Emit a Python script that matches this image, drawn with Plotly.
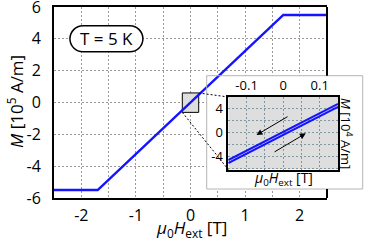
import plotly.graph_objects as go

# ---------------- data ----------------
H_main = [-2.5, -1.7, 1.7, 2.5]          # mu0 Hext [T]
M_main = [-5.5, -5.5, 5.5, 5.5]          # M [1e5 A/m]

H_loop = [-0.15, 0.15]                   # inset field [T]
M_loop_down = [-4.61, 4.83]              # descending branch [1e4 A/m]
M_loop_up = [-5.11, 4.33]                # ascending branch [1e4 A/m]

# arrows in inset: (tail_x, tail_y, head_x, head_y)
arrow_down = [0.016, 2.84, -0.073, -0.40]
arrow_up = [-0.0275, -3.38, 0.062, -0.12]

main_xticks = [-2, -1, 0, 1, 2]
main_xtext = ["-2", "-1", "0", "1", "2"]
main_yticks = [-6, -4, -2, 0, 2, 4, 6]
main_ytext = ["-6", "-4", "-2", "0", "2", "4", "6"]
inset_xticks = [-0.1, 0, 0.1]
inset_xtext = ["-0.1", "0", "0.1"]
inset_yticks = [-4, 0, 4]
inset_ytext = ["-4", "0", "4"]

# ---------------- geometry ----------------
W, H = 365, 240
ML, MR, MT, MB = 54, 2, 7, 42
PW, PH = W - ML - MR, H - MT - MB


def px_x(p):
    return (p - ML) / PW


def px_y(p):
    return (H - MB - p) / PH


main_xr = [-2.5, 2.5]
main_yr = [-6, 6]
main_dx = [0, px_x(327)]
main_dy = [0, 1]

ins_xr = [-0.15, 0.15]
ins_yr = [-6.2, 6.0]
ins_dx = [px_x(228.3), px_x(338)]
ins_dy = [px_y(169.5), px_y(97)]

box_x = [px_x(206.7), px_x(362.7)]
box_y = [px_y(189), px_y(75.7)]


def to_main_x(px):
    return main_xr[0] + (px - main_dx[0]) / (main_dx[1] - main_dx[0]) * (main_xr[1] - main_xr[0])


def to_main_y(py):
    return main_yr[0] + (py - main_dy[0]) / (main_dy[1] - main_dy[0]) * (main_yr[1] - main_yr[0])


FONT = "Open Sans"
BLUE = "#1414ff"
GRID = "#9a9a9a"
IGRID = "#7f979f"
INSET_BG = "#dedede"

fig = go.Figure()

fig.add_trace(go.Scatter(x=H_main, y=M_main, mode="lines",
                         line=dict(color=BLUE, width=2.5),
                         xaxis="x", yaxis="y", hoverinfo="skip", showlegend=False))
fig.add_trace(go.Scatter(x=H_loop, y=M_loop_down, mode="lines",
                         line=dict(color=BLUE, width=2),
                         xaxis="x2", yaxis="y2", hoverinfo="skip", showlegend=False))
fig.add_trace(go.Scatter(x=H_loop, y=M_loop_up, mode="lines",
                         line=dict(color=BLUE, width=2),
                         xaxis="x2", yaxis="y2", hoverinfo="skip", showlegend=False))

shapes = []
# white inset panel (covers main gridlines, below main curve)
shapes.append(dict(type="rect", xref="x", yref="y", layer="between",
                   x0=to_main_x(box_x[0]), x1=to_main_x(box_x[1]),
                   y0=to_main_y(box_y[0]), y1=to_main_y(box_y[1]),
                   fillcolor="white", line=dict(width=0)))
# panel border
shapes.append(dict(type="rect", xref="paper", yref="paper", layer="above",
                   x0=box_x[0], x1=box_x[1], y0=box_y[0], y1=box_y[1],
                   fillcolor="rgba(0,0,0,0)", line=dict(color="#b4b4b4", width=1)))
# zoom square at origin on the main plot
shapes.append(dict(type="rect", xref="x", yref="y", layer="between",
                   x0=ins_xr[0], x1=ins_xr[1],
                   y0=ins_yr[0] / 10, y1=ins_yr[1] / 10,
                   fillcolor=INSET_BG, line=dict(color="black", width=1)))
# connector lines
shapes.append(dict(type="line", xref="x", yref="y", layer="above",
                   x0=ins_xr[1], y0=ins_yr[1] / 10,
                   x1=to_main_x(ins_dx[0]), y1=to_main_y(ins_dy[1]),
                   line=dict(color="black", width=1, dash="2px,2px")))
shapes.append(dict(type="line", xref="x", yref="y", layer="above",
                   x0=ins_xr[0], y0=ins_yr[0] / 10,
                   x1=to_main_x(ins_dx[0]), y1=to_main_y(ins_dy[0]),
                   line=dict(color="black", width=1, dash="2px,2px")))
# right border of main frame (interrupted by inset panel)
shapes.append(dict(type="line", xref="paper", yref="paper", layer="above",
                   x0=main_dx[1], x1=main_dx[1], y0=1, y1=box_y[1],
                   line=dict(color="black", width=2)))
shapes.append(dict(type="line", xref="paper", yref="paper", layer="above",
                   x0=main_dx[1], x1=main_dx[1], y0=box_y[0], y1=0,
                   line=dict(color="black", width=2)))
# gray inset plot area
shapes.append(dict(type="rect", xref="x2", yref="y2", layer="below",
                   x0=ins_xr[0], x1=ins_xr[1], y0=ins_yr[0], y1=ins_yr[1],
                   fillcolor=INSET_BG, line=dict(width=0)))
# rounded label box "T = 5 K"
shapes.append(dict(type="path", xref="x", yref="y", layer="above",
                   xsizemode="pixel", ysizemode="pixel",
                   xanchor=-1.54, yanchor=4.0,
                   path=("M -23.5,13 L 23.5,13 C 30.68,13 36.5,7.18 36.5,0 "
                         "C 36.5,-7.18 30.68,-13 23.5,-13 L -23.5,-13 "
                         "C -30.68,-13 -36.5,-7.18 -36.5,0 C -36.5,7.18 -30.68,13 -23.5,13 Z"),
                   fillcolor="white", line=dict(color="black", width=1.5)))

annotations = [
    dict(text="T = 5 K", x=-1.54, y=4.0, xref="x", yref="y", showarrow=False,
         font=dict(family=FONT, size=17, color="black"), xanchor="center", yanchor="middle"),
    dict(text="<i>μ</i><sub>0</sub><i>H</i><sub>ext</sub> [T]", x=px_x(191), y=px_y(228.5),
         xref="paper", yref="paper", showarrow=False, xanchor="center", yanchor="middle",
         font=dict(family=FONT, size=17, color="black")),
    dict(text="<i>M</i> [10<sup>5</sup> A/m]", x=px_x(15), y=px_y(102),
         xref="paper", yref="paper", showarrow=False, xanchor="center", yanchor="middle",
         textangle=-90, font=dict(family=FONT, size=17, color="black")),
    dict(text="<i>μ</i><sub>0</sub><i>H</i><sub>ext</sub> [T]", x=px_x(283), y=px_y(178),
         xref="paper", yref="paper", showarrow=False, xanchor="center", yanchor="middle",
         font=dict(family=FONT, size=14, color="black")),
    dict(text="<i>M</i> [10<sup>4</sup> A/m]", x=px_x(347), y=px_y(133),
         xref="paper", yref="paper", showarrow=False, xanchor="center", yanchor="middle",
         textangle=90, font=dict(family=FONT, size=13, color="black")),
]
for a in (arrow_down, arrow_up):
    annotations.append(dict(x=a[2], y=a[3], ax=a[0], ay=a[1], xref="x2", yref="y2",
                            axref="x2", ayref="y2", text="", showarrow=True,
                            arrowhead=2, arrowsize=1.2, arrowwidth=1, arrowcolor="black"))

fig.update_layout(
    width=W, height=H, margin=dict(l=ML, r=MR, t=MT, b=MB, autoexpand=False),
    paper_bgcolor="white", plot_bgcolor="white",
    font=dict(family=FONT, size=16, color="black"),
    showlegend=False,
    shapes=shapes, annotations=annotations,
    xaxis=dict(domain=main_dx, range=main_xr, anchor="y", automargin=False,
               tickmode="array", tickvals=main_xticks, ticktext=main_xtext,
               showline=True, linecolor="black", linewidth=2, mirror=True,
               ticks="", zeroline=False, ticklabeloverflow="allow",
               showgrid=True, gridcolor=GRID, gridwidth=1, griddash="2px,2px",
               minor=dict(tickmode="linear", tick0=0, dtick=0.5, showgrid=True,
                          gridcolor=GRID, gridwidth=1, griddash="2px,2px"),
               tickfont=dict(family=FONT, size=16), ticklabelstandoff=2),
    yaxis=dict(domain=main_dy, range=main_yr, anchor="x", automargin=False,
               tickmode="array", tickvals=main_yticks, ticktext=main_ytext,
               showline=True, linecolor="black", linewidth=2, mirror=False,
               ticks="", zeroline=False, ticklabeloverflow="allow",
               showgrid=True, gridcolor=GRID, gridwidth=1, griddash="2px,2px",
               tickfont=dict(family=FONT, size=16), ticklabelstandoff=8),
    xaxis2=dict(domain=ins_dx, range=ins_xr, anchor="y2", side="top", automargin=False,
                tickmode="array", tickvals=inset_xticks, ticktext=inset_xtext,
                showline=True, linecolor="black", linewidth=1.5, mirror=True,
                ticks="", zeroline=False, ticklabeloverflow="allow",
                showgrid=True, gridcolor=IGRID, gridwidth=1, griddash="2px,2px",
                minor=dict(tickmode="linear", tick0=0, dtick=0.05, showgrid=True,
                           gridcolor=IGRID, gridwidth=1, griddash="2px,2px"),
                tickfont=dict(family=FONT, size=13), ticklabelstandoff=0),
    yaxis2=dict(domain=ins_dy, range=ins_yr, anchor="x2", automargin=False,
                tickmode="array", tickvals=inset_yticks, ticktext=inset_ytext,
                showline=True, linecolor="black", linewidth=1.5, mirror=True,
                ticks="", zeroline=False, ticklabeloverflow="allow",
                showgrid=True, gridcolor=IGRID, gridwidth=1, griddash="2px,2px",
                minor=dict(tickmode="linear", tick0=0, dtick=2, showgrid=True,
                           gridcolor=IGRID, gridwidth=1, griddash="2px,2px"),
                tickfont=dict(family=FONT, size=13), ticklabelstandoff=1),
)

fig.write_html("out.html", config={"displayModeBar": False},
               post_script="document.body.style.margin='0';document.body.style.padding='0';")
